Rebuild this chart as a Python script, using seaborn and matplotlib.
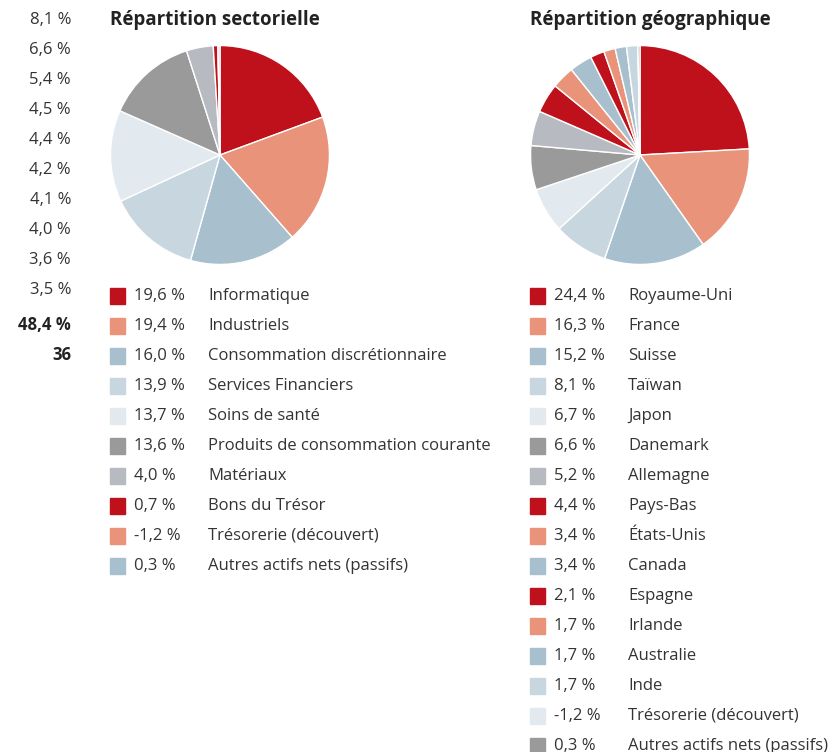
import matplotlib.pyplot as plt
import seaborn as sns

# top holdings column (names not shown in the picture)
top_weights = ["8,1 %", "6,6 %", "5,4 %", "4,5 %", "4,4 %", "4,2 %", "4,1 %", "4,0 %", "3,6 %", "3,5 %"]
top_total = "48,4 %"
holdings_count = "36"

sector_labels = ["Informatique", "Industriels", "Consommation discrétionnaire", "Services Financiers",
                 "Soins de santé", "Produits de consommation courante", "Matériaux", "Bons du Trésor",
                 "Trésorerie (découvert)", "Autres actifs nets (passifs)"]
sector_values = [19.6, 19.4, 16.0, 13.9, 13.7, 13.6, 4.0, 0.7, -1.2, 0.3]

geo_labels = ["Royaume-Uni", "France", "Suisse", "Taïwan", "Japon", "Danemark", "Allemagne", "Pays-Bas",
              "États-Unis", "Canada", "Espagne", "Irlande", "Australie", "Inde", "Trésorerie (découvert)",
              "Autres actifs nets (passifs)"]
geo_values = [24.4, 16.3, 15.2, 8.1, 6.7, 6.6, 5.2, 4.4, 3.4, 3.4, 2.1, 1.7, 1.7, 1.7, -1.2, 0.3]

red, salmon, blue, lblue, pale, dgrey, lgrey = ["#BE111B", "#E8937A", "#A8BFCD", "#C8D6E0",
                                                "#E2E9EF", "#9A9A9B", "#B8BAC1"]
sector_colors = [red, salmon, blue, lblue, pale, dgrey, lgrey, red, salmon, blue]
geo_colors = [red, salmon, blue, lblue, pale, dgrey, lgrey, red, salmon, blue,
              red, salmon, blue, lblue, pale, dgrey]

sns.set_theme(style="white")
plt.rcParams['font.family'] = ['Open Sans', 'DejaVu Sans']

W, H = 830, 752
fig = plt.figure(figsize=(W / 100, H / 100), dpi=100)
txt_col = "#333333"


def fmt(v):
    return f"{v:.1f} %".replace(".", ",")


def px(x, y):
    return x / W, 1 - y / H


def draw_block(x0, title, labels, values, colors):
    cx, cy, r = x0 + 110, 155, 110
    ax = fig.add_axes([(cx - r) / W, 1 - (cy + r) / H, 2 * r / W, 2 * r / H])
    ax.pie([max(v, 0) for v in values], colors=colors, startangle=90, counterclock=False,
           wedgeprops=dict(edgecolor="white", linewidth=1))
    ax.set_xlim(-1.005, 1.005)
    ax.set_ylim(-1.005, 1.005)
    ax.set_aspect("equal")
    ax.axis("off")
    fig.text(*px(x0, 20), title, fontsize=13.5, fontweight="bold", color="#222222", va="center")
    for i, (lab, v, c) in enumerate(zip(labels, values, colors)):
        y = 296 + i * 30
        fig.patches.append(plt.Rectangle(px(x0, y + 8), 15 / W, 16 / H, transform=fig.transFigure,
                                         color=c, figure=fig))
        fig.text(*px(x0 + 24, y), fmt(v), fontsize=12, color=txt_col, va="center")
        fig.text(*px(x0 + 98, y), lab, fontsize=12, color=txt_col, va="center")


draw_block(110, "Répartition sectorielle", sector_labels, sector_values, sector_colors)
draw_block(530, "Répartition géographique", geo_labels, geo_values, geo_colors)

for i, t in enumerate(top_weights):
    fig.text(*px(71, 20 + i * 30), t, fontsize=12, color=txt_col, ha="right", va="center")
fig.text(*px(71, 325), top_total, fontsize=12, fontweight="bold", color="#222222", ha="right", va="center")
fig.text(*px(71, 355), holdings_count, fontsize=12, fontweight="bold", color="#222222", ha="right", va="center")

fig.savefig("out.png", dpi=100)
